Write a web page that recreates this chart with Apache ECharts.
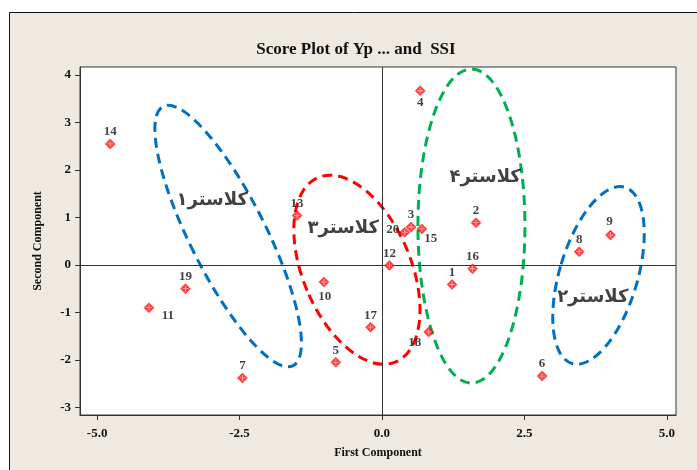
<!DOCTYPE html>
<html>
<head>
<meta charset="utf-8">
<script src="https://cdn.jsdelivr.net/npm/echarts@6/dist/echarts.min.js"></script>
<style>
  html, body { margin: 0; padding: 0; background: #ffffff; }
  #chart { width: 697px; height: 470px; }
</style>
</head>
<body>
<div id="chart"></div>
<script>
// Sample scores on the first two principal components
const sampleIds = [1, 2, 3, 4, 5, 6, 7, 8, 9, 10, 11, 12, 13, 14, 15, 16, 17, 18, 19, 20];
const firstComponent = [1.23, 1.65, 0.51, 0.67, -0.81, 2.81, -2.45, 3.46, 4.01, -1.02,
                        -4.09, 0.13, -1.49, -4.77, 0.70, 1.59, -0.20, 0.82, -3.45, 0.40];
const secondComponent = [-0.41, 0.89, 0.80, 3.67, -2.05, -2.34, -2.38, 0.28, 0.63, -0.36,
                         -0.90, -0.01, 1.04, 2.55, 0.76, -0.08, -1.31, -1.41, -0.50, 0.69];

// Tick labels
const xTicks = [-5.0, -2.5, 0.0, 2.5, 5.0];
const yTicks = [-3, -2, -1, 0, 1, 2, 3, 4];

// Cluster names and their label anchors (in component units)
const clusterNames = ['کلاستر۱', 'کلاستر۲', 'کلاستر۳', 'کلاستر۴'];
const clusterLabelX = [-2.98, 3.70, -0.68, 1.81];
const clusterLabelY = [1.37, -0.69, 0.78, 1.85];

// Cluster outlines: centre (component units), semi-axes (px), tilt (deg)
const clusterCenterX = [-2.70, 3.80, -0.44, 1.57];
const clusterCenterY = [0.61, -0.22, -0.10, 0.82];
const clusterRadiusX = [38, 39, 54, 53.5];
const clusterRadiusY = [145, 92, 100, 157];
const clusterTilt = [26.6, -16.7, 22.8, 0];
const clusterColors = ['#0070C0', '#0070C0', '#FF0000', '#00B050'];

// Per-label nudges for crowded points (px from marker centre)
const labelNudge = {
  4: [0, 12], 15: [9, 10], 11: [19, 8], 10: [1, 15], 18: [-14, 11], 20: [-12, -3], 9: [-1, -13]
};

const serif = '"Liberation Serif", "Times New Roman", serif';

const points = sampleIds.map((id, i) => ({
  value: [firstComponent[i], secondComponent[i]],
  name: String(id),
  label: { offset: labelNudge[id] || [0, -12] }
}));

const outlines = clusterNames.map((n, i) => [
  clusterCenterX[i], clusterCenterY[i], clusterRadiusX[i], clusterRadiusY[i], clusterTilt[i], i
]);

const clusterLabels = clusterNames.map((n, i) => ({
  value: [clusterLabelX[i], clusterLabelY[i]], name: n
}));

const chart = echarts.init(document.getElementById('chart'), null, { renderer: 'canvas' });

chart.setOption({
  animation: false,
  backgroundColor: '#ffffff',
  graphic: [{
    type: 'rect', z: -10, silent: true,
    shape: { x: 9.5, y: 12.5, width: 720, height: 480 },
    style: { fill: '#EEEAE1', stroke: '#111', lineWidth: 1 }
  }],
  title: {
    text: 'Score Plot of Yp ... and  SSI',
    left: 351, top: 36, textAlign: 'center',
    textStyle: { fontFamily: serif, fontWeight: 'bold', fontSize: 17, color: '#111' }
  },
  grid: {
    left: 80, top: 67, right: 21, bottom: 55,
    show: true, backgroundColor: '#ffffff', borderColor: '#333', borderWidth: 1
  },
  xAxis: {
    type: 'value', min: -5.3, max: 5.16,
    name: 'First Component', nameLocation: 'middle', nameGap: 32,
    nameTextStyle: { fontFamily: serif, fontWeight: 'bold', fontSize: 12, color: '#111' },
    splitLine: { show: false },
    axisLine: { onZero: false, lineStyle: { color: '#333' } },
    axisTick: { show: true, customValues: xTicks, length: 5, lineStyle: { color: '#333' } },
    axisLabel: {
      customValues: xTicks, margin: 12,
      formatter: v => Number(v).toFixed(1),
      fontFamily: serif, fontWeight: 'bold', fontSize: 13, color: '#111'
    }
  },
  yAxis: {
    type: 'value', min: -3.16, max: 4.17,
    name: 'Second Component', nameLocation: 'middle', nameGap: 36, nameRotate: 90,
    nameTextStyle: { fontFamily: serif, fontWeight: 'bold', fontSize: 12, color: '#111' },
    splitLine: { show: false },
    axisLine: { onZero: false, lineStyle: { color: '#333' } },
    axisTick: { show: true, customValues: yTicks, length: 5, lineStyle: { color: '#333' } },
    axisLabel: {
      customValues: yTicks, margin: 9,
      fontFamily: serif, fontWeight: 'bold', fontSize: 13, color: '#111'
    }
  },
  series: [
    {
      // dashed cluster outlines
      type: 'custom',
      clip: false,
      silent: true,
      z: 2,
      data: outlines,
      renderItem: (params, api) => {
        const c = api.coord([api.value(0), api.value(1)]);
        return {
          type: 'ellipse',
          x: c[0], y: c[1],
          rotation: api.value(4) * Math.PI / 180,
          shape: { cx: 0, cy: 0, rx: api.value(2), ry: api.value(3) },
          style: {
            fill: null, stroke: clusterColors[api.value(5)],
            lineWidth: 3, lineDash: [10, 6]
          }
        };
      }
    },
    {
      // zero reference lines
      type: 'line', data: [], silent: true, z: 1,
      markLine: {
        silent: true, symbol: 'none', label: { show: false },
        lineStyle: { color: '#333', width: 1, type: 'solid' },
        data: [{ xAxis: 0 }, { yAxis: 0 }]
      }
    },
    {
      type: 'scatter', z: 5,
      symbol: 'diamond', symbolSize: 10,
      itemStyle: { color: '#ff1010', borderColor: '#ff0000', borderWidth: 0.5 },
      label: {
        show: true, position: 'inside', formatter: '{b}',
        fontFamily: serif, fontWeight: 'bold', fontSize: 13, color: '#111'
      },
      data: points
    },
    {
      // small light cross inside each marker
      type: 'scatter', z: 6, silent: true,
      symbol: 'path://M0,2.6H6V3.4H0Z M2.6,0H3.4V6H2.6Z', symbolSize: 6,
      itemStyle: { color: '#ffd0d0' },
      data: points.map(p => p.value)
    },
    {
      type: 'scatter', z: 7, silent: true,
      symbolSize: 0,
      label: {
        show: true, position: 'inside', formatter: '{b}',
        fontFamily: '"DejaVu Sans", sans-serif', fontWeight: 'bold', fontSize: 18, color: '#111'
      },
      data: clusterLabels
    }
  ]
});
</script>
</body>
</html>
